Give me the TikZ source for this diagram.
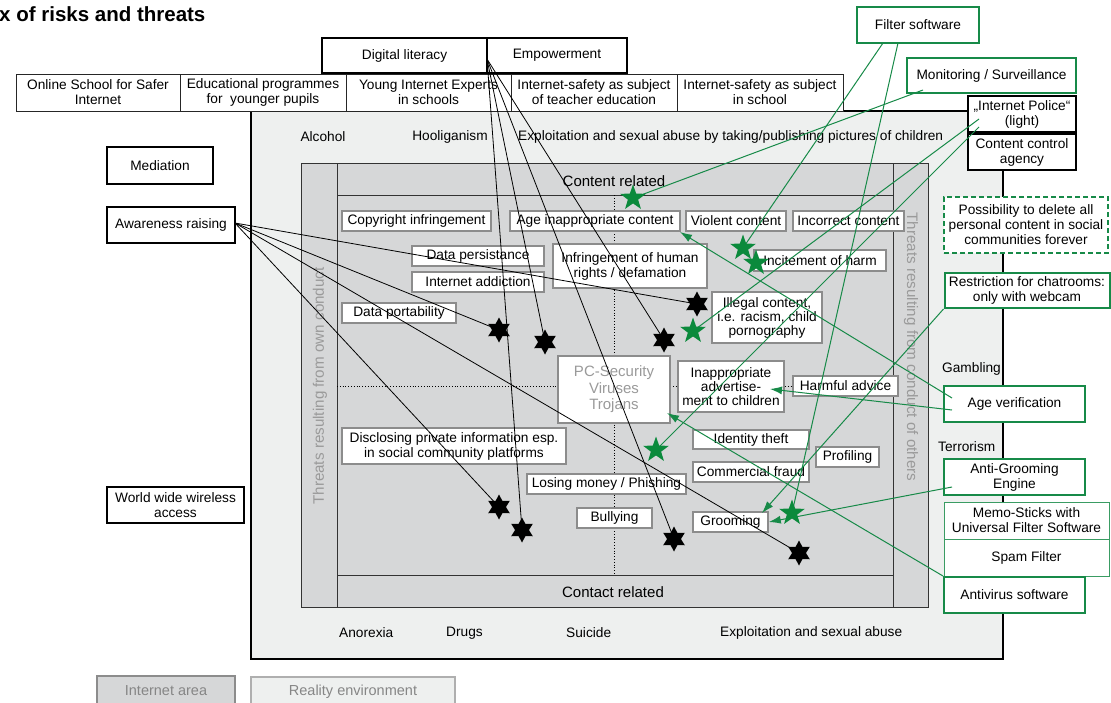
\documentclass[tikz,border=0pt]{standalone}
\usepackage{fontspec}
\setmainfont{Liberation Sans}
\usetikzlibrary{shapes.geometric,arrows.meta}
\definecolor{grn}{HTML}{178A48}
\definecolor{starg}{HTML}{0B8A3C}
\definecolor{reality}{HTML}{EEF0EF}
\definecolor{inet}{HTML}{D6D7D8}
\definecolor{cbord}{HTML}{8C8C8C}
\definecolor{gtext}{HTML}{9A9A9A}
\begin{document}
\begin{tikzpicture}[x=1pt,y=-1pt,
  every node/.style={font=\fontsize{13.7}{15}\selectfont, inner sep=0pt, align=center},
  kbox/.style={draw=black, line width=1.6pt, fill=white},
  tbox/.style={draw=black!85, line width=1pt, fill=white},
  gbox/.style={draw=grn, line width=2pt, fill=white},
  gthin/.style={draw=grn!85, line width=1pt, fill=white},
  gdash/.style={draw=grn, line width=1.6pt, dash pattern=on 5pt off 3pt, fill=white},
  cbox/.style={draw=cbord, line width=1.6pt, fill=white},
  bline/.style={draw=black, line width=0.8pt},
  gline/.style={draw=grn, line width=1pt},
  garrow/.style={gline, -{Latex[length=12pt,width=8pt]}},
  bstar/.style={star, star points=6, star point ratio=1.8, minimum size=25pt, fill=black, draw=none},
  gstarnode/.style={star, star points=5, star point ratio=2.5, minimum size=27pt, fill=starg, draw=none},
  rtext/.style={anchor=west}
]
\useasboundingbox (0,0) rectangle (1111,702);

% title
\node[anchor=west, font=\fontsize{20.5}{23}\bfseries] (title) at (-1,14) {x of risks and threats};

% reality environment
\draw[fill=reality, line width=1.6pt] (251,111) rectangle (1003,659);
% internet area
\draw[fill=inet, draw=black!80, line width=0.9pt] (301,163) rectangle (928,607);
\draw[draw=black!80, line width=0.9pt] (337,163) -- (337,607);
\draw[draw=black!80, line width=0.9pt] (893,163) -- (893,607);
\draw[draw=black!80, line width=0.9pt] (337,195) -- (893,195);
\draw[draw=black!80, line width=0.9pt] (337,575) -- (893,575);
\draw[dotted, line width=0.8pt] (614,195) -- (614,575);
\draw[dotted, line width=0.8pt] (337,386) -- (893,386);

\node[text=gtext, font=\fontsize{15.2}{17}\selectfont, rotate=90] (ownc) at (320,386) {Threats resulting from own conduct};
\node[text=gtext, font=\fontsize{15.2}{17}\selectfont, rotate=-90] (othc) at (911,347) {Threats resulting from conduct of others};
\node[font=\fontsize{15}{17}\selectfont] (cr) at (614,181) {Content related};
\node[font=\fontsize{15}{17}\selectfont] (ctr) at (613,592) {Contact related};

% reality words
\node (alc) at (323,137) {Alcohol};
\node (hoo) at (450,137) {Hooliganism};
\node[rtext] (expl1) at (518,137) {Exploitation and sexual abuse by taking/publishing pictures of children};
\node[rtext] (ano) at (339,633) {Anorexia};
\node[rtext] (dru) at (446,633) {Drugs};
\node[rtext] (sui) at (566,633) {Suicide};
\node[rtext] (expl2) at (720,633) {Exploitation and sexual abuse};
\node[rtext] (gam) at (942,369) {Gambling};
\node[rtext] (ter) at (938,447) {Terrorism};

% top boxes
\node[kbox, minimum width=165pt, minimum height=35pt] (diglit) at (404.5,55.5) {Digital literacy};
\node[kbox, minimum width=140pt, minimum height=35pt] (empow) at (557,55.5) {Empowerment};
\node[tbox, minimum width=164pt, minimum height=37pt] (onl) at (98,92.5) {Online School for Safer\\Internet};
\node[tbox, minimum width=166pt, minimum height=37pt] (edu) at (263,92.5) {Educational programmes\\for\ \ younger pupils};
\node[tbox, minimum width=165pt, minimum height=37pt] (yie) at (428.5,92.5) {Young Internet Experts\\in schools};
\node[tbox, minimum width=166pt, minimum height=37pt] (ist) at (594,92.5) {Internet-safety as subject\\of teacher education};
\node[tbox, minimum width=166pt, minimum height=37pt] (iss) at (760,92.5) {Internet-safety as subject\\in school};

% left boxes
\node[kbox, minimum width=106pt, minimum height=37pt] (med) at (160,165.5) {Mediation};
\node[kbox, minimum width=128pt, minimum height=36pt] (awr) at (171,225) {Awareness raising};
\node[kbox, minimum width=137pt, minimum height=36pt] (www) at (175.5,505) {World wide wireless\\access};

% right boxes
\node[gbox, minimum width=122pt, minimum height=36pt] (filt) at (918,25) {Filter software};
\node[gbox, minimum width=169pt, minimum height=35pt] (mon) at (991.5,75.5) {Monitoring / Surveillance};
\node[kbox, minimum width=108pt, minimum height=36pt] (pol) at (1022,114) {„Internet Police“\\(light)};
\node[kbox, minimum width=108pt, minimum height=36pt] (cca) at (1022,152) {Content control\\agency};
\node[gdash, minimum width=164pt, minimum height=56pt] (poss) at (1026,225) {Possibility to delete all\\personal content in social\\communities forever};
\node[gbox, minimum width=165pt, minimum height=35pt] (restr) at (1027,290.5) {Restriction for chatrooms:\\only with webcam};
\node[gbox, minimum width=141pt, minimum height=36pt] (agev) at (1014.5,404) {Age verification};
\node[gbox, minimum width=141pt, minimum height=36pt] (antig) at (1014.5,477) {Anti-Grooming\\Engine};
\node[gthin, minimum width=165pt, minimum height=37pt] (memo) at (1026.5,520.5) {Memo-Sticks with\\Universal Filter Software};
\node[gthin, minimum width=165pt, minimum height=37pt] (spam) at (1026.5,557.5) {Spam Filter};
\node[gbox, minimum width=141pt, minimum height=36pt] (antiv) at (1014.5,595) {Antivirus software};

% inner risk boxes
\node[cbox, minimum width=149pt, minimum height=20pt] (copy) at (416.5,221) {Copyright infringement};
\node[cbox, minimum width=170pt, minimum height=20pt] (agei) at (595,221) {Age inappropriate content};
\node[cbox, minimum width=100pt, minimum height=20pt] (viol) at (736,221) {Violent content};
\node[cbox, minimum width=111pt, minimum height=20pt] (inco) at (848.5,221) {Incorrect content};
\node[cbox, minimum width=132pt, minimum height=20pt] (dpers) at (478,256) {Data persistance};
\node[cbox, minimum width=132pt, minimum height=20pt] (iadd) at (478,282) {Internet addiction};
\node[cbox, minimum width=154pt, minimum height=44pt] (infr) at (630,266) {Infringement of human\\rights / defamation};
\node[cbox, minimum width=132pt, minimum height=21pt] (inci) at (820,260.5) {Incitement of harm};
\node[cbox, minimum width=114pt, minimum height=20pt] (dport) at (399,313) {Data portability};
\node[cbox, minimum width=110pt, minimum height=51pt, font=\fontsize{13.7}{14}\selectfont] (illeg) at (767,317.5) {Illegal content,\\i.e. racism, child\\pornography};
\node[cbox, minimum width=112pt, minimum height=67pt, text=gtext, font=\fontsize{15}{16.5}\selectfont] (pcsec) at (614,389.5) {PC-Security\\Viruses\\Trojans};
\node[cbox, minimum width=106pt, minimum height=51pt, font=\fontsize{13.7}{14}\selectfont] (inadv) at (731,386.5) {Inappropriate\\advertise-\\ment to children};
\node[cbox, minimum width=105pt, minimum height=20pt] (harm) at (845.5,386) {Harmful advice};
\node[cbox, minimum width=224pt, minimum height=36pt] (discl) at (454,446) {Disclosing private information esp.\\in social community platforms};
\node[cbox, minimum width=116pt, minimum height=19pt] (ident) at (751,439.5) {Identity theft};
\node[cbox, minimum width=116pt, minimum height=20pt] (comm) at (751,472) {Commercial fraud};
\node[cbox, minimum width=63pt, minimum height=20pt] (prof) at (847.5,457) {Profiling};
\node[cbox, minimum width=159pt, minimum height=20pt] (losing) at (606.5,484) {Losing money / Phishing};
\node[cbox, minimum width=75pt, minimum height=20pt] (bully) at (614.5,518) {Bullying};
\node[cbox, minimum width=75pt, minimum height=20pt] (groom) at (730.5,522) {Grooming};

% legend
\node[draw=cbord, fill=inet, line width=1.2pt, minimum width=138pt, minimum height=30pt, text=gtext!120, font=\fontsize{14.5}{16}\selectfont] (leg1) at (166,691) {Internet area};
\node[draw=cbord!70, fill=reality, line width=1.2pt, minimum width=204pt, minimum height=30pt, text=gtext!120, font=\fontsize{14.5}{16}\selectfont] (leg2) at (353,692) {Reality environment};

% star positions
\coordinate (b1) at (697,304);
\coordinate (b2) at (664,340);
\coordinate (b3) at (499,330);
\coordinate (b4) at (545,342);
\coordinate (b5) at (499,507);
\coordinate (b6) at (522,530);
\coordinate (b7) at (674,539);
\coordinate (b8) at (799,553);
\coordinate (g1) at (633,198);
\coordinate (g2) at (743,248);
\coordinate (g3) at (756,263);
\coordinate (g4) at (693,331);
\coordinate (g5) at (656,450);
\coordinate (g6) at (792,513);

% black connectors
\coordinate (awrO) at (235,223);
\coordinate (dlO) at (487,59);
\draw[bline] (awrO) -- (b1);
\draw[bline] (awrO) -- (b3);
\draw[bline] (awrO) -- (b8);
\draw[bline] (awrO) -- (b5);
\draw[bline] (dlO) -- (b4);
\draw[bline] (dlO) -- (b6);
\draw[bline] (dlO) -- (b2);
\draw[bline] (dlO) -- (b7);

% green connectors
\coordinate (filtA) at (883,43);
\coordinate (filtB) at (898,43);
\coordinate (monO) at (923,90);
\coordinate (polA) at (979,119);
\coordinate (polB) at (979,127);
\coordinate (agevA) at (952,398);
\coordinate (agevB) at (952,410);
\coordinate (antigO) at (952,487);
\coordinate (tGroomA) at (762,513);
\coordinate (tAgei) at (680,232);
\coordinate (tInadv) at (770,389);
\coordinate (tPc) at (667,413);
\draw[gline] (filtA) -- (g2);
\draw[gline] (filtB) -- (g6);
\draw[gline] (monO) -- (g1);
\draw[gline] (polA) -- (g4);
\draw[gline] (polB) -- (g5);
\draw[garrow] (restr.south west) -- (tGroomA);
\draw[garrow] (agevA) -- (tAgei);
\draw[garrow] (agevB) -- (tInadv);
\draw[garrow] (antigO) -- (groom.east);
\draw[garrow] (antiv.north west) -- (tPc);

% stars
\foreach \s in {b1,b2,b3,b4,b5,b6,b7,b8} \node[bstar] (s\s) at (\s) {};
\foreach \s in {g1,g2,g3,g4,g5,g6} \node[gstarnode] (s\s) at (\s) {};
\end{tikzpicture}
\end{document}
